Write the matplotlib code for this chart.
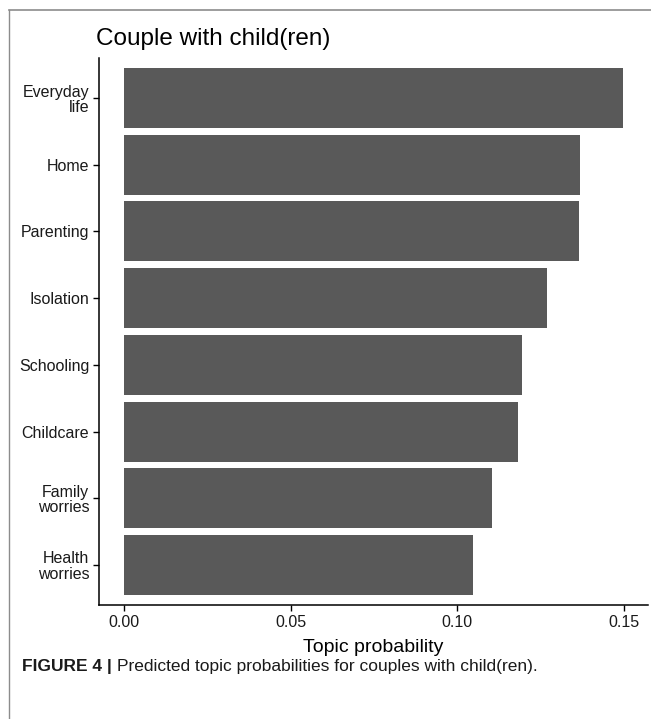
import matplotlib
matplotlib.use("Agg")
import matplotlib.pyplot as plt
from matplotlib.lines import Line2D

plt.rcParams['font.family'] = ['Liberation Sans', 'DejaVu Sans']

topics = ["Everyday\nlife", "Home", "Parenting", "Isolation", "Schooling",
          "Childcare", "Family\nworries", "Health\nworries"]
probs = [0.1497, 0.1368, 0.1365, 0.1270, 0.1195, 0.1183, 0.1105, 0.1048]
xticks = [0.00, 0.05, 0.10, 0.15]
xtick_labels = ["0.00", "0.05", "0.10", "0.15"]

W, H = 651, 719
fig = plt.figure(figsize=(W / 100, H / 100), dpi=100)
ax = fig.add_axes([99 / W, (H - 605) / H, (648 - 99) / W, (605 - 58) / H])

n = len(topics)
ypos = list(range(n, 0, -1))
ax.barh(ypos, probs, height=0.9, color="#595959", edgecolor="none")
ax.set_ylim(0.4, n + 0.6)
xmax = max(probs)
ax.set_xlim(-0.05 * xmax, xmax * 1.05)
ax.set_yticks(ypos)
ax.set_yticklabels(topics, fontsize=11.5, color="#1a1a1a", linespacing=1.05)
ax.set_xticks(xticks)
ax.set_xticklabels(xtick_labels, fontsize=11.5, color="#1a1a1a")
ax.set_xlabel("Topic probability", fontsize=14, labelpad=7)
for s in ["top", "right"]:
    ax.spines[s].set_visible(False)
for s in ["left", "bottom"]:
    ax.spines[s].set_linewidth(1.1)
ax.tick_params(length=4, width=1.0, pad=3)
ax.set_title("Couple with child(ren)", fontsize=17.5, loc="left", x=-0.005, pad=9)

# frame lines
fig.add_artist(Line2D([9 / W, 1], [1 - 10 / H, 1 - 10 / H], color="#8c8c8c", lw=1.2, transform=fig.transFigure))
fig.add_artist(Line2D([9 / W, 9 / W], [0, 1 - 10 / H], color="#8c8c8c", lw=1.0, transform=fig.transFigure))

# caption
t = fig.text(22 / W, 1 - 667 / H, "FIGURE 4 |", fontsize=12.5, fontweight="bold", va="center", color="#1a1a1a")
fig.canvas.draw()
bb = t.get_window_extent()
fig.text((bb.x1 + 5) / W, 1 - 667 / H, "Predicted topic probabilities for couples with child(ren).",
         fontsize=12.5, va="center", color="#1a1a1a")

fig.savefig("out.png", dpi=100)
